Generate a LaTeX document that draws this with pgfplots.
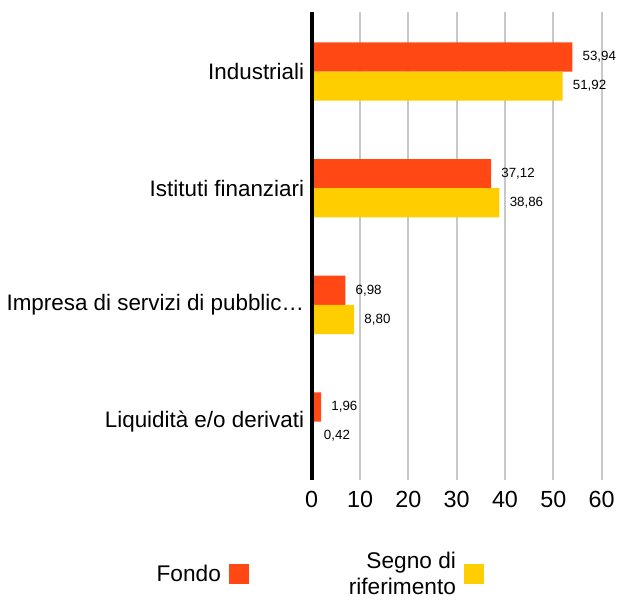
\documentclass[border=0pt]{standalone}
\usepackage{pgfplots}
\pgfplotsset{compat=1.18}
\usepackage{fontspec}
\setmainfont{Liberation Sans}
\definecolor{fondo}{RGB}{255,72,20}
\definecolor{segno}{RGB}{255,206,0}
\definecolor{gridc}{RGB}{200,200,200}
\begin{document}
\begin{tikzpicture}
\begin{axis}[
  scale only axis,
  width=217.5pt, height=351pt,
  xmin=0, xmax=60, ymin=-0.5, ymax=3.51,
  clip=false,
  xbar,
  xtick={0,10,...,60},
  ytick={0,1,2,3},
  yticklabels={Liquidità e/o derivati, Impresa di servizi di pubblic…, Istituti finanziari, Industriali},
  major tick length=0pt,
  axis line style={draw=none},
  xmajorgrids, major x grid style={gridc, line width=1.5pt},
  /pgf/number format/assume math mode=true,
  xticklabel style={font=\fontsize{17.5}{20}\selectfont, inner sep=0pt, anchor=north},
  xticklabel shift=8.5pt,
  yticklabel style={font=\fontsize{16.8}{20}\selectfont, inner sep=0pt, anchor=east},
  yticklabel shift=5.5pt,
  bar width=0.25,
  point meta=x,
  nodes near coords,
  nodes near coords style={font=\fontsize{10}{12}\selectfont, inner sep=0pt, anchor=west, xshift=7.5pt,
    /pgf/number format/.cd, fixed, fixed zerofill, precision=2, use comma, assume math mode=true},
  legend columns=2,
  legend plot pos=right,
  legend style={draw=none, fill=none, at={(0.025,-0.201)}, anchor=center,
    font=\fontsize{17}{19.5}\selectfont,
    cells={anchor=center, align=right},
    /tikz/every odd column/.style={column sep=4pt},
    /tikz/every even column/.style={column sep=73pt}},
  legend image code/.code={\fill[#1,draw=none] (0pt,-7.5pt) rectangle (15pt,7.5pt);},
]
\addplot[bar shift=0.125, fill=fondo, draw=none] coordinates {(53.94,3) (37.12,2) (6.98,1) (1.96,0)};
\addplot[bar shift=-0.125, fill=segno, draw=none] coordinates {(51.92,3) (38.86,2) (8.80,1) (0.42,0)};
\legend{Fondo, Segno di\\riferimento}
\draw[black, line width=3.2pt] (rel axis cs:0,0) -- (rel axis cs:0,1);
\end{axis}
\path[use as bounding box] (-233.8pt,-90pt) rectangle (230.5pt,360pt);
\end{tikzpicture}
\end{document}
